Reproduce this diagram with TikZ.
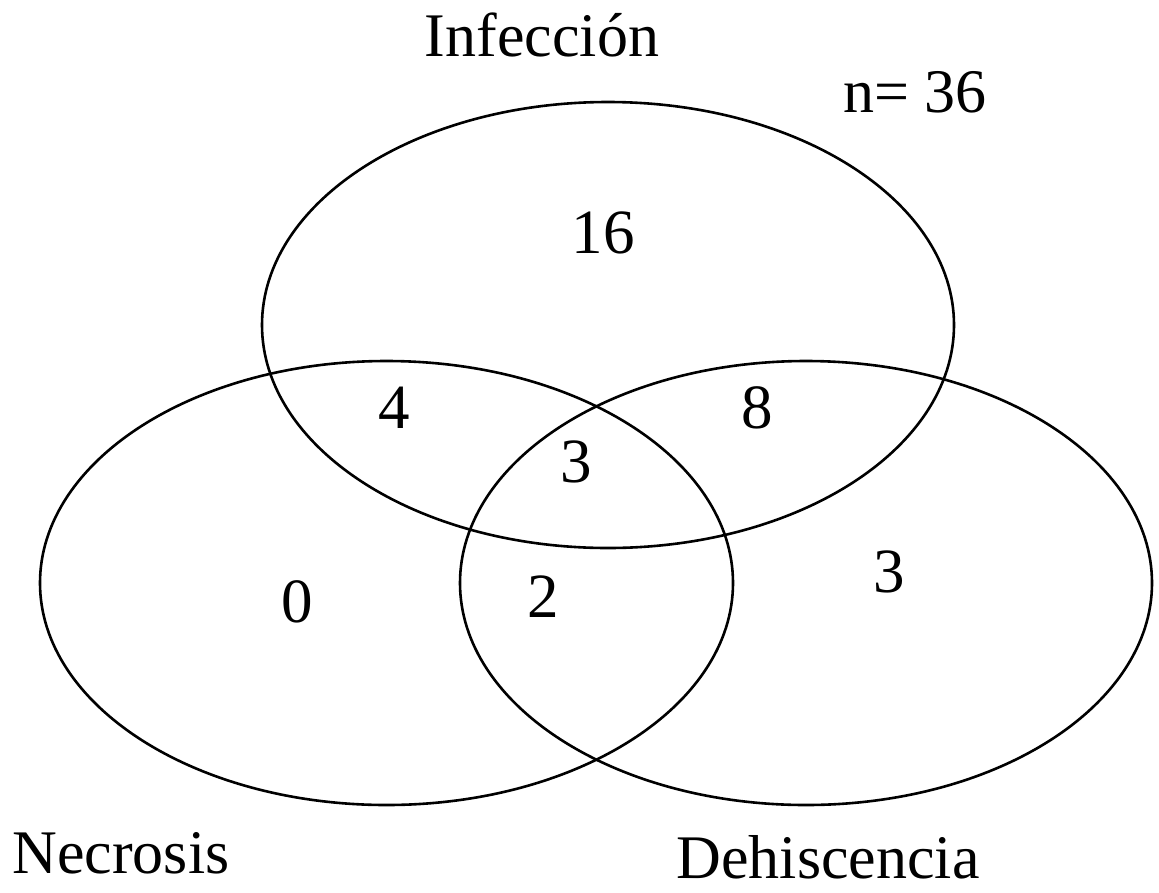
\documentclass[tikz,border=0pt]{standalone}
\usepackage{fontspec}
\setmainfont{Liberation Serif}
\begin{document}
\begin{tikzpicture}[x=1pt,y=-1pt,
  setline/.style={draw=black, line width=2.6pt},
  lbl/.style={anchor=base, inner sep=0pt, font=\fontsize{62}{62}\selectfont},
  num/.style={anchor=base, inner sep=0pt, font=\fontsize{63}{63}\selectfont}]
\useasboundingbox (0,0) rectangle (1159,892);
% sets
\draw[setline] (608,325) ellipse [x radius=346, y radius=223];
\draw[setline] (386.5,583) ellipse [x radius=346.5, y radius=222];
\draw[setline] (806,583) ellipse [x radius=346, y radius=222];
% labels
\node[lbl] (inf) at (542,56) {Infección};
\node[lbl] (n) at (915,112) {n= 36};
\node[lbl] (nec) at (121,873) {Necrosis};
\node[lbl] (deh) at (828,878) {Dehiscencia};
% counts
\node[num] (c16) at (603,253) {16};
\node[num] (c4) at (394,428) {4};
\node[num] (c8) at (757,428) {8};
\node[num] (c3m) at (576,482) {3};
\node[num] (c0) at (297,622) {0};
\node[num] (c2) at (543,617) {2};
\node[num] (c3r) at (889,592) {3};
\end{tikzpicture}
\end{document}
